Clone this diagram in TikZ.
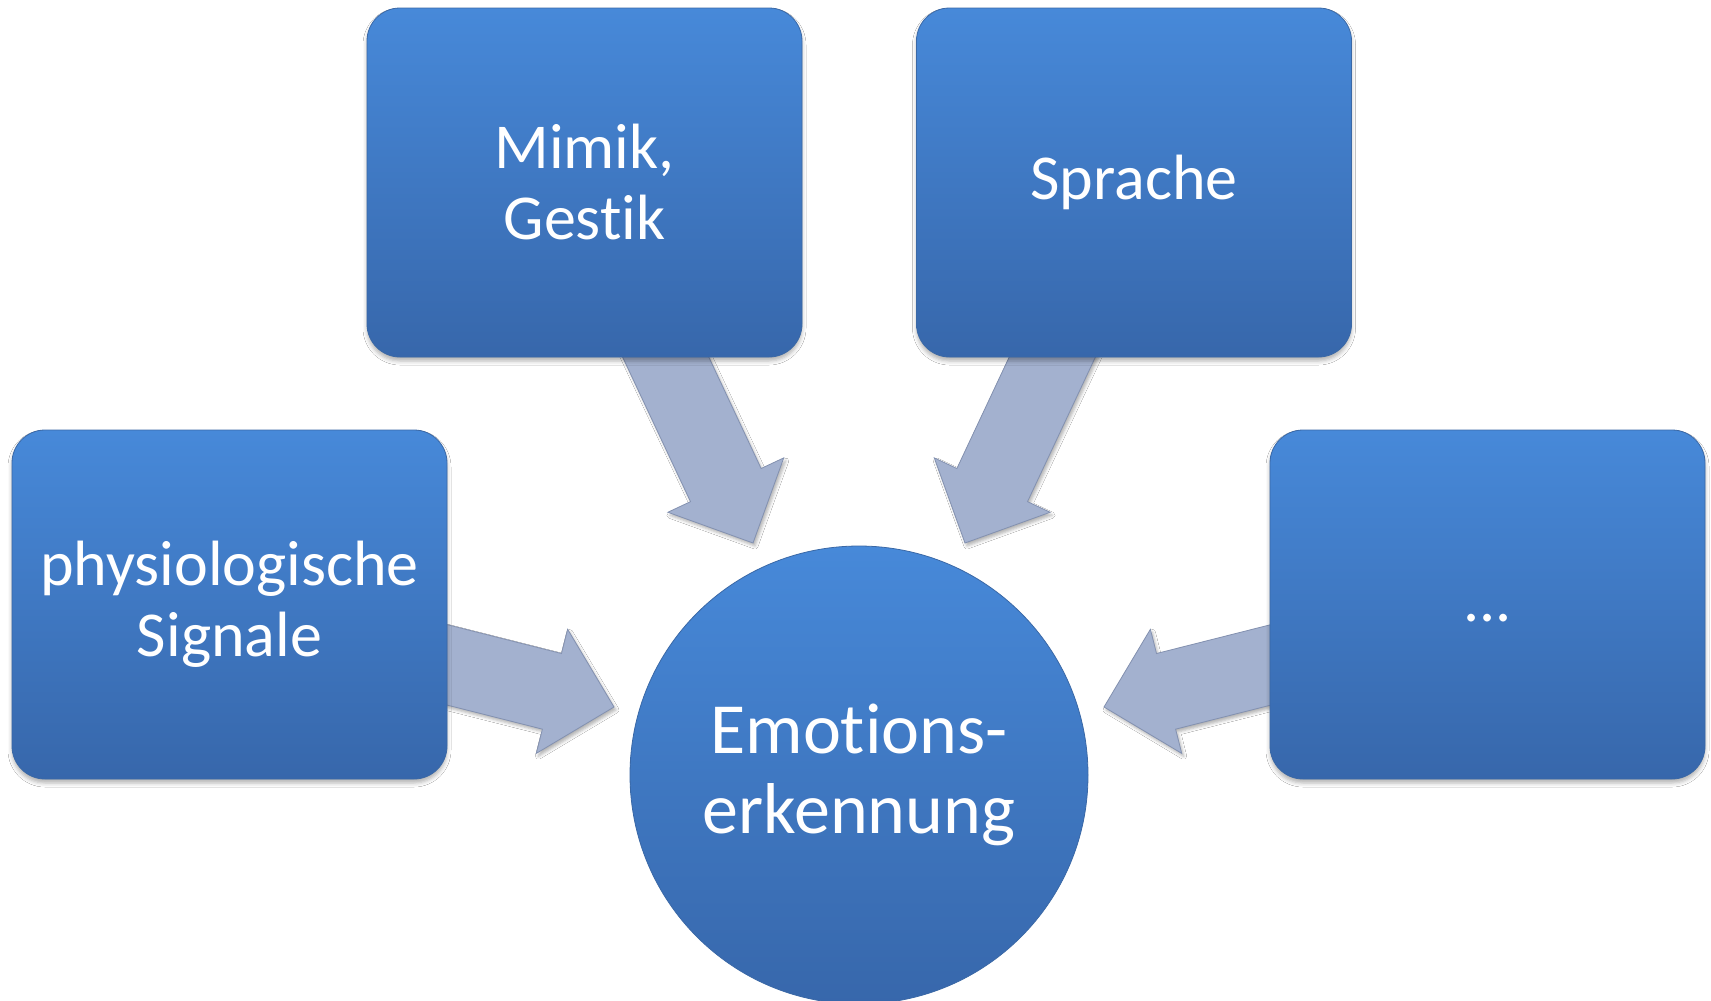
\documentclass[tikz,border=0pt]{standalone}
\usepackage{fontspec}
\setmainfont{Carlito}[Ligatures=NoCommon]
\usetikzlibrary{calc,shadows.blur}
\definecolor{boxtop}{HTML}{4789D9}
\definecolor{boxbot}{HTML}{3767AB}
\definecolor{boxedge}{HTML}{3A68A6}
\definecolor{arrowc}{HTML}{A3B1CF}
\definecolor{arrowedge}{HTML}{8391B0}
\newcommand\blockarrow[2]{%
  \coordinate (hb) at ($(#2)!64pt!(#1)$);
  \path[arrowfill] ($(#1)!39pt!90:(#2)$) -- ($(hb)!39pt!90:(#2)$) -- ($(hb)!64pt!90:(#2)$) -- (#2)
    -- ($(hb)!64pt!-90:(#2)$) -- ($(hb)!39pt!-90:(#2)$) -- ($(#1)!39pt!-90:(#2)$) -- cycle;
}
\begin{document}
\begin{tikzpicture}[x=1pt,y=-1pt,
  box/.style={rectangle, rounded corners=33pt, minimum width=435pt, minimum height=349pt,
    inner sep=0pt, top color=boxtop, bottom color=boxbot, draw=boxedge, line width=0.8pt,
    text=white, align=center, font=\fontsize{64}{71}\selectfont,
    blur shadow={shadow xshift=0pt, shadow yshift=-4pt, shadow blur radius=4pt, shadow opacity=30}},
  hub/.style={circle, minimum size=458pt, inner sep=0pt, top color=boxtop, bottom color=boxbot,
    draw=boxedge, line width=0.8pt, text=white, align=center, font=\fontsize{72}{80}\selectfont},
  arrowfill/.style={fill=arrowc, draw=arrowedge, line width=0.8pt, line join=miter,
    blur shadow={shadow xshift=2pt, shadow yshift=-3pt, shadow blur radius=3pt, shadow opacity=30}}]
\fill[white] (0,0) rectangle (1711,1001);
\useasboundingbox (0,0) rectangle (1711,1001);

% arrow end points
\coordinate (a1s) at (653,330);  \coordinate (a1e) at (753,543);
\coordinate (a2s) at (1065,330); \coordinate (a2e) at (965,543);
\coordinate (a3s) at (420,658);  \coordinate (a3e) at (614,707);
\coordinate (a4s) at (1298,658); \coordinate (a4e) at (1104,707);

\blockarrow{a1s}{a1e}
\blockarrow{a2s}{a2e}
\blockarrow{a3s}{a3e}
\blockarrow{a4s}{a4e}

\node[box] (mimik) at (584.5,182.5) {Mimik,\\Gestik};
\node[box] (sprache) at (1134,182.5) {Sprache};
\node[box] (phys) at (229.5,604.5) {physiologische\\Signale};
\node[box] (dots) at (1487.5,604.5) {\vphantom{Sprache}...};
\node[hub] (emo) at (859,775) {Emotions-\\erkennung};
\end{tikzpicture}
\end{document}
